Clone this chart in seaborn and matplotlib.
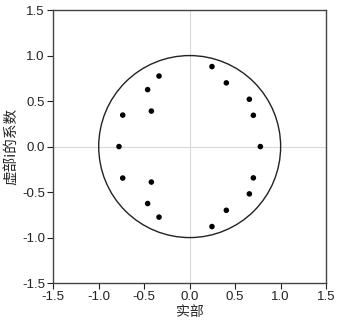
import numpy as np
import pandas as pd
import matplotlib
matplotlib.use('Agg')
import matplotlib.pyplot as plt
import seaborn as sns
from matplotlib.patches import Circle

realPart = [0.245, 0.403, 0.656, 0.700, 0.777, 0.700, 0.656, 0.403, 0.245,
            -0.337, -0.462, -0.421, -0.736, -0.777, -0.736, -0.421, -0.462, -0.337]
imagPart = [0.879, 0.700, 0.520, 0.344, 0.0, -0.344, -0.520, -0.700, -0.879,
            0.775, 0.626, 0.390, 0.346, 0.0, -0.346, -0.390, -0.626, -0.775]
ticks = [-1.5, -1.0, -0.5, 0.0, 0.5, 1.0, 1.5]

df = pd.DataFrame({'re': realPart, 'im': imagPart})

sns.set_style('ticks')
plt.rcParams['font.family'] = ['Liberation Sans', 'Noto Sans CJK SC', 'DejaVu Sans']

fig = plt.figure(figsize=(3.39, 3.25), dpi=100)
ax = fig.add_axes([0.157, 0.129, 0.805, 0.84])

ax.axhline(0, color='#d9d9d9', lw=0.8, zorder=0)
ax.axvline(0, color='#d9d9d9', lw=0.8, zorder=0)
ax.add_patch(Circle((0, 0), 1.0, fill=False, ec='#222222', lw=1.0))

sns.scatterplot(data=df, x='re', y='im', ax=ax, color='black', s=16,
                edgecolor='none', legend=False)

ax.set_xlim(-1.5, 1.5)
ax.set_ylim(-1.5, 1.5)
ax.set_xticks(ticks)
ax.set_yticks(ticks)
ax.set_xticklabels([f'{t:.1f}' for t in ticks])
ax.set_yticklabels([f'{t:.1f}' for t in ticks])
ax.tick_params(direction='out', length=4, width=0.8, labelsize=9.5, colors='#222222', pad=2)
for s in ax.spines.values():
    s.set_color('#444444')
    s.set_linewidth(1.0)
ax.set_xlabel('实部', fontsize=10, family=['Noto Sans CJK SC'], labelpad=1)
ax.set_ylabel('虚部i的系数', fontsize=10.5, family=['Noto Sans CJK SC'], labelpad=2)

fig.savefig('out.png', dpi=100)
